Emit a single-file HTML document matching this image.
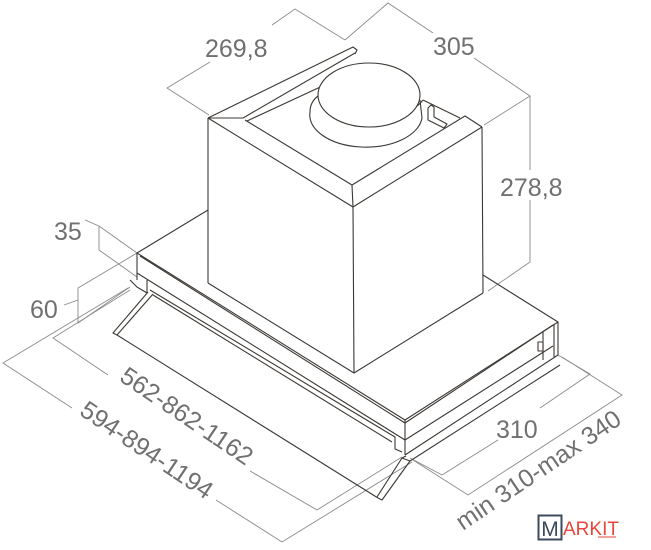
<!DOCTYPE html>
<html><head><meta charset="utf-8"><style>
html,body{margin:0;padding:0;background:#fff;width:651px;height:550px;overflow:hidden}
svg{display:block}
text{font-family:"Liberation Sans",sans-serif;fill:#707070;font-size:25px}
</style></head><body>
<svg width="651" height="550" viewBox="0 0 651 550" xmlns="http://www.w3.org/2000/svg">
<g fill="none" stroke="#8a8a8a" stroke-width="0.9">
<polyline points="209,115 167,88 210,62"/>
<polyline points="272,25 295,9 345,40"/>
<polyline points="345,40 388,3 433,33"/>
<polyline points="474,58 530,96 484,125"/>
<polyline points="530,96 530,170"/>
<polyline points="530,200 530,262 488,291"/>
<polyline points="85,220 99,226 99,250 137,277"/>
<polyline points="99,226 137,253"/>
<polyline points="137,253 78,288 78,323 130,287"/>
<line x1="64" y1="305" x2="78" y2="300"/>
<polyline points="130,290 53,338 108,375"/>
<polyline points="250,471 317,510 402,457"/>
<polyline points="128,288 3,363 72,408"/>
<polyline points="216,500 282,542 412,462"/>
<polyline points="558,355 590,374 540,408"/>
<polyline points="498,440 442,475 410,458"/>
<polyline points="562,357 622,395 468,495 413,460"/>
</g>
<g fill="none" stroke="#3c3834" stroke-width="1.1" stroke-linejoin="round">
<polyline points="208,118 243,118 355,53"/>
<polyline points="208,118 353,47 357,50 355,54"/>
<polyline points="247,121 372,63"/>
<polyline points="423,100 460,118"/>
<polyline points="245,120 352,185 465,116 482,127"/>
<polyline points="208,118 353,207 482,127"/>
<line x1="352" y1="185" x2="353" y2="207"/>
<line x1="208" y1="118" x2="208" y2="283"/>
<line x1="353" y1="207" x2="354" y2="373"/>
<line x1="482" y1="127" x2="483" y2="293"/>
<polyline points="208,283 354,373 483,293"/>
<path d="M318,96 A56,32 0 0 0 423,100"/>
<path d="M318,96 Q310,102 310,112 A56,32 0 0 0 422,118 L420,100"/>
<ellipse cx="369" cy="95" rx="51" ry="32" fill="#fff"/>
<path d="M428,108 l3,-3 l3,2 l0,10 l13,7 l-3,4 l-16,-8 z"/>
<polyline points="208,210 137,253 405,420 558,322 483,275"/>
<polyline points="140,256 405,423"/>
<line x1="137" y1="253" x2="137" y2="280"/>
<polyline points="137,273 405,440"/>
<line x1="405" y1="420" x2="405" y2="455"/>
<polyline points="405,440 553,346"/>
<polyline points="405,455 558,355"/>
<polyline points="405,423 553,325"/>
<line x1="558" y1="322" x2="558" y2="355"/>
<line x1="554" y1="325" x2="554" y2="357"/>
<line x1="543" y1="332" x2="543" y2="360"/>
<rect x="538" y="342" width="5" height="9"/>
<polyline points="130,280 137,287 147,293 147,280"/>
<polyline points="150,290 395,437 395,449 402,452"/>
<polyline points="153,295 392,442"/>
<polyline points="148,292 113,333 117,335 153,294"/>
<polyline points="117,335 378,498"/>
<polyline points="377,497 402,458 410,461 382,500 378,498"/>
<line x1="402" y1="458" x2="406" y2="456"/>
<polyline points="410,461 560,365"/>
</g>
<text x="205" y="57">269,8</text>
<text x="433" y="55">305</text>
<text x="500" y="196">278,8</text>
<text x="54" y="240">35</text>
<text x="30" y="318">60</text>
<text x="496" y="438">310</text>
<text transform="translate(182,423) rotate(34)" text-anchor="middle">562-862-1162</text>
<text transform="translate(142,457) rotate(34)" text-anchor="middle">594-894-1194</text>
<text transform="translate(543,477) rotate(-34)" text-anchor="middle">min 310-max 340</text>
<rect x="538.5" y="515.5" width="23" height="24" fill="#fff" stroke="#3d4a5c" stroke-width="2"/>
<text x="550" y="536" text-anchor="middle" style="fill:#3d4a5c;font-size:21px">M</text>
<text x="563" y="535" style="fill:#e8453c;font-size:19px">ARKIT</text>
<line x1="598" y1="537" x2="616" y2="537" stroke="#e8453c" stroke-width="1"/>
</svg>
</body></html>
